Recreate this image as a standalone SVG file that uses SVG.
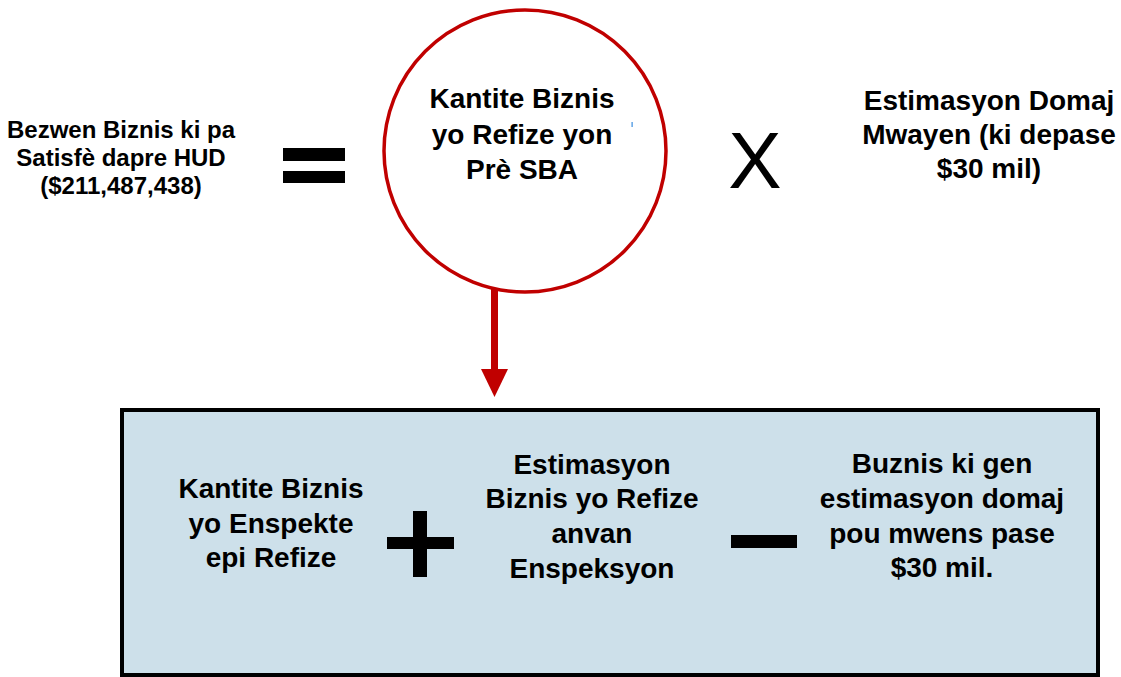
<svg xmlns="http://www.w3.org/2000/svg" width="1121" height="677" viewBox="0 0 1121 677">
<style>
.t{font-family:"Liberation Sans",Arial,sans-serif;font-weight:bold;fill:#000;text-anchor:middle}
.s23{font-size:24px}
.s27{font-size:28px}
.op{fill:#000}
</style>
<rect width="1121" height="677" fill="#fff"/>
<g id="need">
<text class="t s23" x="121" y="138">Bezwen Biznis ki pa</text>
<text class="t s23" x="121" y="166">Satisfè dapre HUD</text>
<text class="t s23" x="121" y="194">($211,487,438)</text>
</g>
<g id="equals">
<rect class="op" x="283" y="148" width="62" height="13"/>
<rect class="op" x="283" y="171" width="62" height="12"/>
</g>
<g id="circle">
<circle cx="525" cy="151" r="141" fill="#fff" stroke="#c00000" stroke-width="3.5"/>
<text class="t s27" x="522" y="108">Kantite Biznis</text>
<text class="t s27" x="522" y="144">yo Refize yon</text>
<text class="t s27" x="522" y="179">Prè SBA</text>
<rect x="631.5" y="122" width="1.2" height="5" fill="#3a8ee0"/>
</g>
<g id="times">
<text x="755" y="188" font-family="'Liberation Sans',Arial,sans-serif" font-size="80" text-anchor="middle" fill="#000">X</text>
</g>
<g id="average">
<text class="t s27" x="989" y="110">Estimasyon Domaj</text>
<text class="t s27" x="989" y="144">Mwayen (ki depase</text>
<text class="t s27" x="989" y="178">$30 mil)</text>
</g>
<g id="connectors">
<line x1="494.5" y1="289" x2="494.5" y2="371" stroke="#c00000" stroke-width="7"/>
<polygon points="481,369 508,369 494.5,397" fill="#c00000"/>
</g>
<g id="box">
<rect x="122" y="410" width="976" height="265" fill="#cde0ea" stroke="#000" stroke-width="4"/>
</g>
<g id="inspected">
<text class="t s27" x="271" y="498">Kantite Biznis</text>
<text class="t s27" x="271" y="533">yo Enspekte</text>
<text class="t s27" x="271" y="567">epi Refize</text>
</g>
<g id="plus">
<rect class="op" x="413" y="511" width="14" height="66"/>
<rect class="op" x="387" y="537" width="67" height="12"/>
</g>
<g id="estimated">
<text class="t s27" x="592" y="474">Estimasyon</text>
<text class="t s27" x="592" y="508">Biznis yo Refize</text>
<text class="t s27" x="592" y="543">anvan</text>
<text class="t s27" x="592" y="578">Enspeksyon</text>
</g>
<g id="minus">
<rect class="op" x="731" y="535" width="66" height="13"/>
</g>
<g id="under">
<text class="t s27" x="942" y="473">Buznis ki gen</text>
<text class="t s27" x="942" y="508">estimasyon domaj</text>
<text class="t s27" x="942" y="543">pou mwens pase</text>
<text class="t s27" x="942" y="577">$30 mil.</text>
</g>
</svg>
